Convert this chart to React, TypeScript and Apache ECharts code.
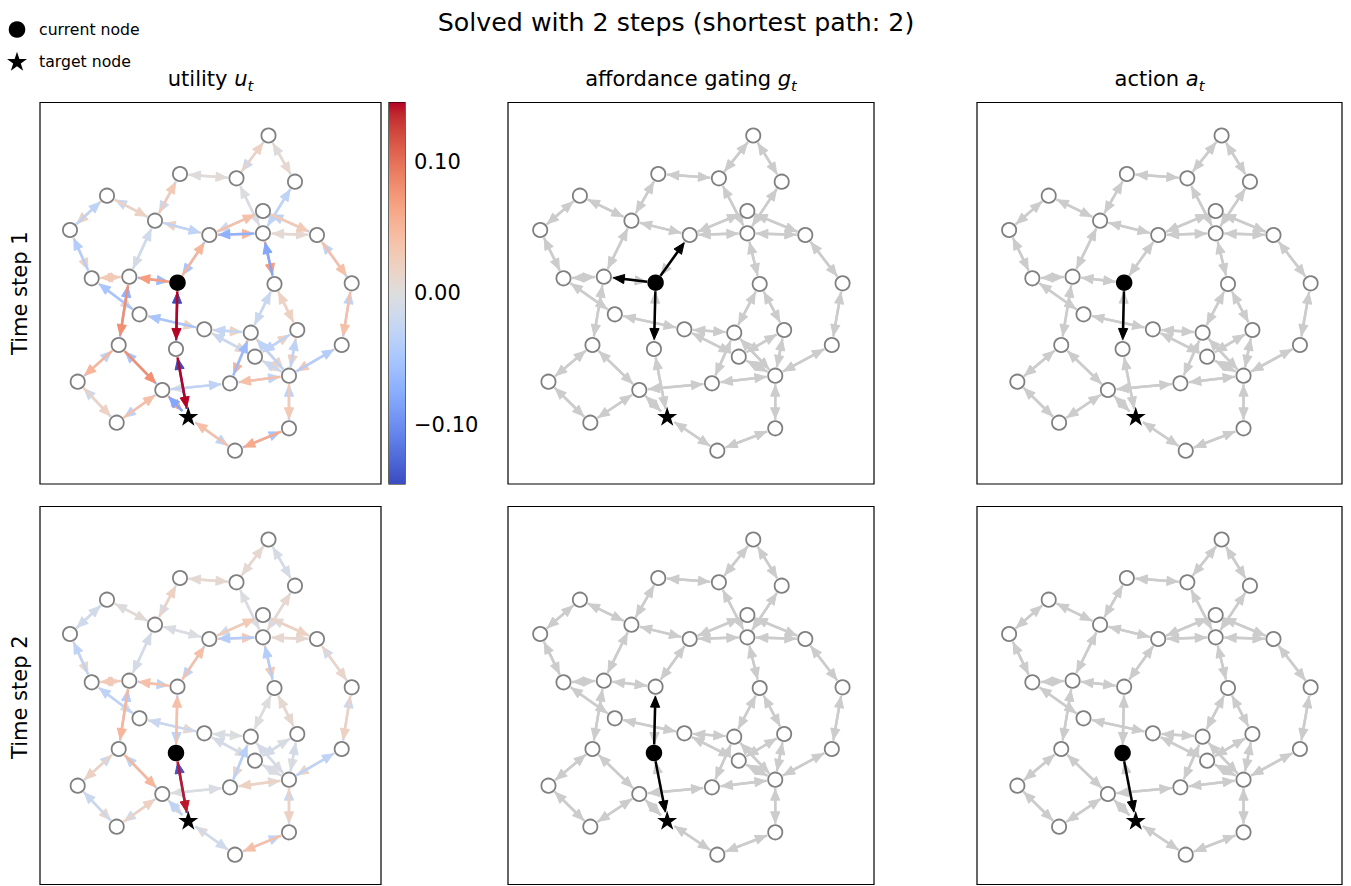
import React, { useEffect, useRef } from 'react';
import * as echarts from 'echarts';

// ---------- data ----------
// node positions (graph layout, same in every panel)
const nodeX = [268.5, 180, 236.5, 295, 107, 155, 263, 70, 209.3, 263, 317, 91.7, 129.3, 177.5, 274.5, 351.7,
  139.5, 204.3, 250.8, 297.3, 118.7, 176, 255, 341.7, 77.7, 162.3, 188.3, 116.7, 230, 289, 289, 235];
const nodeY = [135.5, 174, 178.3, 181.7, 195.7, 220.7, 211, 230, 235, 233.3, 235, 278.3, 276.7, 282.7, 284, 283.3,
  314.3, 329.3, 332.7, 330, 345, 349, 356.7, 345, 381.7, 390, 417.3, 422.7, 383.3, 375.7, 428.3, 450.7];

// undirected edges (each drawn in both directions)
const edgeA = [0, 0, 1, 1, 4, 4, 7, 11, 5, 5, 8, 12, 8, 6, 6, 2, 3, 9, 9, 10, 15, 12, 11, 16, 17, 14, 14, 18, 18, 19, 17, 22, 19, 23, 28, 25, 13, 21, 20, 20, 24, 25, 25, 26, 30, 29];
const edgeB = [2, 3, 2, 5, 5, 7, 11, 12, 12, 8, 13, 13, 9, 8, 10, 9, 9, 10, 14, 15, 23, 20, 16, 17, 18, 18, 19, 28, 29, 22, 22, 29, 29, 29, 29, 28, 21, 26, 24, 25, 27, 27, 26, 31, 31, 30];

// utility of action A->B and B->A, time step 1
const util1AB = [-0.02, 0.01, 0.005, -0.02, 0.02, 0.02, 0.02, 0.02, -0.005, -0.03, -0.05, -0.06, 0.05, -0.02, 0.03, -0.005, -0.025, 0.01, 0.07, 0.04, 0.04, 0.08, 0.01, 0.02, 0.02, -0.02, 0.02, 0.05, 0.02, -0.03, 0.01, 0.01, 0.02, 0.03, -0.03, -0.03, 0.145, 0.145, 0.05, 0.08, 0.02, -0.03, 0.06, -0.03, 0.06, 0.03];
const util1BA = [0.02, -0.005, -0.005, 0.03, -0.02, -0.03, -0.04, 0.03, -0.015, 0.02, 0.05, 0.07, -0.07, 0.04, -0.03, 0.0, -0.03, 0.005, -0.08, -0.03, -0.03, -0.07, -0.05, -0.05, -0.025, -0.02, 0.02, -0.06, -0.03, 0.02, -0.02, -0.02, -0.03, -0.04, 0.04, 0.0, -0.145, -0.145, -0.03, -0.05, -0.02, 0.04, -0.08, 0.04, -0.05, -0.03];
// time step 2
const util2AB = [0.005, -0.01, 0.01, -0.01, 0.005, -0.015, 0.015, 0.01, -0.01, 0.0, -0.03, -0.03, 0.03, -0.015, 0.02, -0.005, -0.01, 0.01, 0.03, 0.015, 0.02, 0.05, 0.0, 0.01, 0.0, 0.0, 0.01, 0.015, 0.0, -0.01, 0.0, 0.0, 0.0, 0.015, 0.005, -0.005, -0.03, 0.14, 0.02, 0.05, 0.015, -0.015, 0.01, -0.015, 0.04, 0.02];
const util2BA = [0.01, -0.005, 0.005, 0.02, -0.005, -0.01, -0.03, 0.03, -0.01, -0.005, 0.04, 0.04, -0.04, 0.03, 0.0, 0.0, 0.01, 0.01, -0.04, -0.015, -0.02, -0.04, -0.03, -0.02, -0.005, 0.0, 0.01, -0.035, -0.01, 0.0, -0.01, -0.005, -0.01, -0.03, 0.02, 0.0, 0.04, -0.14, -0.02, -0.03, -0.02, 0.02, -0.03, 0.005, -0.03, -0.02];

const currentNode = [13, 21];
const targetNode = 26;
// allowed actions (affordance gating) per step
const gateFrom = [[13, 13, 13], [21, 21]];
const gateTo = [[12, 8, 21], [13, 26]];
// chosen action per step
const actionFrom = [13, 21];
const actionTo = [21, 26];

const cbTicks = [-0.1, 0, 0.1];
const uMin = -0.145;
const uMax = 0.145;

const panelTitles = ['utility', 'affordance gating', 'action'];
const panelSymbols = ['u', 'g', 'a'];
const rowLabels = ['Time step 1', 'Time step 2'];
const mainTitle = 'Solved with 2 steps (shortest path: 2)';
const legendLabels = ['current node', 'target node'];

// ---------- styling / layout ----------
const FONT = 'DejaVu Sans';
const PANEL_LEFT = [40, 508, 977];
const PANEL_W = [341, 366, 365];
const ROW_TOP = [102.5, 506.5];
const ROW_H = [381.5, 378];
const X_RANGE = [40, 381];
const GRAY_EDGE = '#cccccc';

const COOLWARM = [[59, 76, 192], [68, 90, 204], [77, 104, 215], [87, 117, 225], [98, 130, 234], [108, 142, 241], [119, 154, 247], [130, 165, 251], [141, 176, 254], [152, 185, 255], [163, 194, 255], [174, 201, 253], [184, 208, 249], [194, 213, 244], [204, 217, 238], [213, 219, 230], [221, 221, 221], [229, 216, 209], [236, 211, 197], [241, 204, 185], [245, 196, 173], [247, 187, 160], [247, 177, 148], [247, 166, 135], [244, 154, 123], [241, 141, 111], [236, 127, 99], [229, 112, 88], [222, 96, 77], [213, 80, 66], [203, 62, 56], [192, 40, 47], [180, 4, 38]];

function coolwarm(t: number): string {
  const tt = Math.max(0, Math.min(1, t));
  const f = tt * 32;
  const i = Math.min(31, Math.floor(f));
  const r = f - i;
  const a = COOLWARM[i];
  const b = COOLWARM[i + 1];
  const c = [0, 1, 2].map((k) => Math.round(a[k] + (b[k] - a[k]) * r));
  return `rgb(${c[0]},${c[1]},${c[2]})`;
}

function starPoints(cx: number, cy: number, R: number, r: number) {
  const pts: number[][] = [];
  for (let k = 0; k < 10; k++) {
    const ang = -Math.PI / 2 + (k * Math.PI) / 5;
    const rad = k % 2 === 0 ? R : r;
    pts.push([cx + rad * Math.cos(ang), cy + rad * Math.sin(ang)]);
  }
  return pts;
}

function starPath(): string {
  const pts = starPoints(0, 0, 10, 3.82);
  return 'path://' + pts.map((p, i) => (i === 0 ? 'M' : 'L') + p[0].toFixed(3) + ',' + p[1].toFixed(3)).join(' ') + ' Z';
}

function edgeRender(mode: 'util' | 'gate') {
  return (params: any, api: any) => {
    const p1 = api.coord([api.value(0), api.value(1)]);
    const p2 = api.coord([api.value(2), api.value(3)]);
    const v = api.value(4);
    const color = mode === 'util' ? coolwarm((v - uMin) / (uMax - uMin)) : v > 0 ? '#000000' : GRAY_EDGE;
    const dx = p2[0] - p1[0];
    const dy = p2[1] - p1[1];
    const len = Math.hypot(dx, dy) || 1;
    const ux = dx / len;
    const uy = dy / len;
    const sA = 8.5;
    const sB = 9.5;
    const hl = 11;
    const hw = 4.6;
    const sx = p1[0] + ux * sA;
    const sy = p1[1] + uy * sA;
    const tx = p2[0] - ux * sB;
    const ty = p2[1] - uy * sB;
    const bx = tx - ux * hl;
    const by = ty - uy * hl;
    return {
      type: 'group',
      children: [
        {
          type: 'line',
          shape: { x1: sx, y1: sy, x2: bx + ux * 2, y2: by + uy * 2 },
          style: { stroke: color, lineWidth: 2.5 },
        },
        {
          type: 'polygon',
          shape: { points: [[tx, ty], [bx - uy * hw, by + ux * hw], [bx + uy * hw, by - ux * hw]] },
          style: { fill: color, stroke: color, lineWidth: 1, lineJoin: 'miter' },
        },
      ],
    };
  };
}

function buildOption() {
  const grids: any[] = [];
  const xAxes: any[] = [];
  const yAxes: any[] = [];
  const series: any[] = [];
  const star = starPath();

  for (let r = 0; r < 2; r++) {
    for (let c = 0; c < 3; c++) {
      const gi = r * 3 + c;
      grids.push({
        left: PANEL_LEFT[c], top: ROW_TOP[r], width: PANEL_W[c], height: ROW_H[r],
        show: true, borderColor: '#000', borderWidth: 1.2, backgroundColor: 'transparent', containLabel: false,
      });
      xAxes.push({ type: 'value', gridIndex: gi, min: X_RANGE[0], max: X_RANGE[1], show: false });
      yAxes.push({ type: 'value', gridIndex: gi, min: ROW_TOP[0], max: ROW_TOP[0] + ROW_H[r], inverse: true, show: false });

      // directed edges
      const items: any[] = [];
      for (let i = 0; i < edgeA.length; i++) {
        for (let d = 0; d < 2; d++) {
          const from = d === 0 ? edgeA[i] : edgeB[i];
          const to = d === 0 ? edgeB[i] : edgeA[i];
          let v: number;
          if (c === 0) {
            const ab = r === 0 ? util1AB : util2AB;
            const ba = r === 0 ? util1BA : util2BA;
            v = d === 0 ? ab[i] : ba[i];
          } else if (c === 1) {
            v = gateFrom[r].some((f, k) => f === from && gateTo[r][k] === to) ? 1 : 0;
          } else {
            v = actionFrom[r] === from && actionTo[r] === to ? 1 : 0;
          }
          items.push([nodeX[from], nodeY[from], nodeX[to], nodeY[to], v]);
        }
      }
      if (c === 0) items.sort((a, b) => (Math.abs(a[4]) - Math.abs(b[4])) || (a[4] - b[4]));
      else items.sort((a, b) => a[4] - b[4]);

      series.push({
        type: 'custom', xAxisIndex: gi, yAxisIndex: gi, z: 2, silent: true,
        renderItem: edgeRender(c === 0 ? 'util' : 'gate'), data: items,
      });

      const cur = currentNode[r];
      const plain = nodeX.map((x, i) => i).filter((i) => i !== cur && i !== targetNode).map((i) => [nodeX[i], nodeY[i]]);
      series.push({
        type: 'scatter', xAxisIndex: gi, yAxisIndex: gi, z: 3, silent: true,
        symbol: 'circle', symbolSize: 14.2,
        itemStyle: { color: '#ffffff', borderColor: '#808080', borderWidth: 1.8, opacity: 1 },
        data: plain,
      });
      series.push({
        type: 'scatter', xAxisIndex: gi, yAxisIndex: gi, z: 4, silent: true,
        symbol: 'circle', symbolSize: 16.5, itemStyle: { color: '#000000', opacity: 1 },
        data: [[nodeX[cur], nodeY[cur]]],
      });
      series.push({
        type: 'scatter', xAxisIndex: gi, yAxisIndex: gi, z: 4, silent: true,
        symbol: star, symbolSize: [20, 19], symbolOffset: [0, -1], itemStyle: { color: '#000000', opacity: 1 },
        data: [[nodeX[targetNode], nodeY[targetNode]]],
      });
    }
  }

  // colorbar
  const cbi = 6;
  grids.push({ left: 389, top: ROW_TOP[0], width: 16, height: ROW_H[0], show: true, borderColor: '#000', borderWidth: 1.2, backgroundColor: 'transparent' });
  xAxes.push({ type: 'value', gridIndex: cbi, min: 0, max: 1, show: false });
  yAxes.push({
    type: 'value', gridIndex: cbi, min: uMin, max: uMax, position: 'right',
    axisLine: { show: false },
    axisTick: { show: true, length: 6, lineStyle: { color: '#000', width: 1.2 }, customValues: cbTicks },
    axisLabel: {
      show: true, margin: 9, color: '#000', fontSize: 21, fontFamily: FONT, customValues: cbTicks,
      formatter: (v: number) => (v < -1e-9 ? '\u2212' : '') + Math.abs(v).toFixed(2),
    },
    splitLine: { show: false },
  });
  const stops = COOLWARM.map((c, i) => ({ offset: 1 - i / 32, color: `rgb(${c[0]},${c[1]},${c[2]})` })).reverse();
  series.push({
    type: 'custom', xAxisIndex: cbi, yAxisIndex: cbi, z: 1, silent: true,
    data: [[0, uMin, 1, uMax]],
    renderItem: (params: any, api: any) => {
      const p1 = api.coord([api.value(0), api.value(3)]);
      const p2 = api.coord([api.value(2), api.value(1)]);
      return {
        type: 'rect',
        shape: { x: p1[0], y: p1[1], width: p2[0] - p1[0], height: p2[1] - p1[1] },
        style: { fill: new echarts.graphic.LinearGradient(0, 0, 0, 1, stops) },
      };
    },
  });

  // texts
  const graphic: any[] = [];
  graphic.push({
    type: 'text', x: 676, y: 22,
    style: { text: mainTitle, fontSize: 25.3, fontFamily: FONT, fill: '#000', align: 'center', verticalAlign: 'middle' },
  });
  for (let c = 0; c < 3; c++) {
    graphic.push({
      type: 'text', x: PANEL_LEFT[c] + PANEL_W[c] / 2, y: 79,
      style: {
        text: panelTitles[c] + ' {i|' + panelSymbols[c] + '}{s|t}',
        fontSize: 21, fontFamily: FONT, fill: '#000', align: 'center', verticalAlign: 'middle', lineHeight: 28,
        rich: {
          i: { fontSize: 21, fontFamily: FONT, fontStyle: 'italic', fill: '#000', lineHeight: 28 },
          s: { fontSize: 14.7, fontFamily: FONT, fontStyle: 'italic', fill: '#000', lineHeight: 16, padding: [12, 0, 0, 0] },
        },
      },
    });
  }
  for (let r = 0; r < 2; r++) {
    graphic.push({
      type: 'text', x: 20, y: ROW_TOP[r] + ROW_H[0] / 2, rotation: Math.PI / 2,
      style: { text: rowLabels[r], fontSize: 21, fontFamily: FONT, fill: '#000', align: 'center', verticalAlign: 'middle' },
    });
  }
  // legend
  graphic.push({ type: 'circle', shape: { cx: 17, cy: 29.5, r: 8.3 }, style: { fill: '#000' } });
  graphic.push({ type: 'polygon', shape: { points: starPoints(17, 62.3, 10.5, 4.0) }, style: { fill: '#000' } });
  graphic.push({
    type: 'text', x: 39, y: 29,
    style: { text: legendLabels[0], fontSize: 15.7, fontFamily: FONT, fill: '#000', align: 'left', verticalAlign: 'middle' },
  });
  graphic.push({
    type: 'text', x: 39, y: 61,
    style: { text: legendLabels[1], fontSize: 15.7, fontFamily: FONT, fill: '#000', align: 'left', verticalAlign: 'middle' },
  });

  return {
    animation: false,
    backgroundColor: '#ffffff',
    grid: grids,
    xAxis: xAxes,
    yAxis: yAxes,
    series,
    graphic,
  };
}

export default function App() {
  const ref = useRef<HTMLDivElement>(null);
  useEffect(() => {
    if (!ref.current) return;
    const chart = echarts.init(ref.current, undefined, { renderer: 'svg' });
    chart.setOption(buildOption() as any);
    return () => chart.dispose();
  }, []);
  return (
    <div
      ref={ref}
      style={{ position: 'fixed', left: 0, top: 0, width: 1351, height: 886, background: '#fff' }}
    />
  );
}
